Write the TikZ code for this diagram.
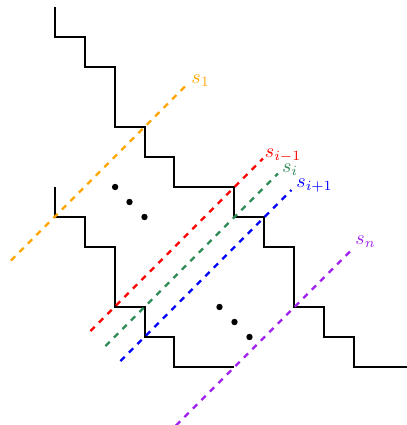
\documentclass[tikz,border=0pt]{standalone}
\definecolor{sorange}{RGB}{255,165,0}
\definecolor{sgreen}{RGB}{46,139,87}
\definecolor{spurple}{RGB}{160,32,240}
\begin{document}
\begin{tikzpicture}[x=15pt,y=15pt,
  stair/.style={line width=1pt, line join=miter},
  sline/.style={dashed, line width=1.1pt},
  lab/.style={anchor=base west, inner sep=0pt},
  dotmark/.style={fill=black}]
\useasboundingbox (-1.8167,-1.9333) rectangle (11.75,12.2333);
% upper staircase
\draw[stair] (0,12) -- (0,11) -- (1,11) -- (1,10) -- (2,10) -- (2,8) -- (3,8) -- (3,7) -- (4,7) -- (4,6) -- (6,6) -- (6,5) -- (7,5) -- (7,4) -- (8,4) -- (8,2) -- (9,2) -- (9,1) -- (10,1) -- (10,0) -- (11.75,0);
% lower staircase
\draw[stair] (0,6) -- (0,5) -- (1,5) -- (1,4) -- (2,4) -- (2,2) -- (3,2) -- (3,1) -- (4,1) -- (4,0) -- (6,0);
% dashed lines
\coordinate (o1) at (-1.45,3.55); \coordinate (o2) at (4.4,9.4);
\coordinate (r1) at (1.2,1.2);   \coordinate (r2) at (6.95,6.95);
\coordinate (g1) at (1.7,0.7);   \coordinate (g2) at (7.45,6.45);
\coordinate (b1) at (2.2,0.2);   \coordinate (b2) at (7.9,5.9);
\coordinate (p1) at (4.05,-1.95); \coordinate (p2) at (9.85,3.85);
\draw[sline, sorange] (o1) -- (o2);
\draw[sline, red] (r1) -- (r2);
\draw[sline, sgreen] (g1) -- (g2);
\draw[sline, blue] (b1) -- (b2);
\draw[sline, spurple] (p1) -- (p2);
% labels
\node[lab, text=sorange] (l1) at (4.55,9.45) {$s_1$};
\node[lab, text=red] (l2) at (7.0,7.0) {$s_{i-1}$};
\node[lab, text=sgreen] (l3) at (7.57,6.47) {$s_i$};
\node[lab, text=blue] (l4) at (8.05,6.0) {$s_{i+1}$};
\node[lab, text=spurple] (l5) at (10.02,4.07) {$s_n$};
% dots
\fill[dotmark] (2.02,6) circle (1.6pt);
\fill[dotmark] (2.5,5.5) circle (1.6pt);
\fill[dotmark] (3,5) circle (1.6pt);
\fill[dotmark] (5.5,2) circle (1.6pt);
\fill[dotmark] (6,1.5) circle (1.6pt);
\fill[dotmark] (6.5,1) circle (1.6pt);
\end{tikzpicture}
\end{document}
